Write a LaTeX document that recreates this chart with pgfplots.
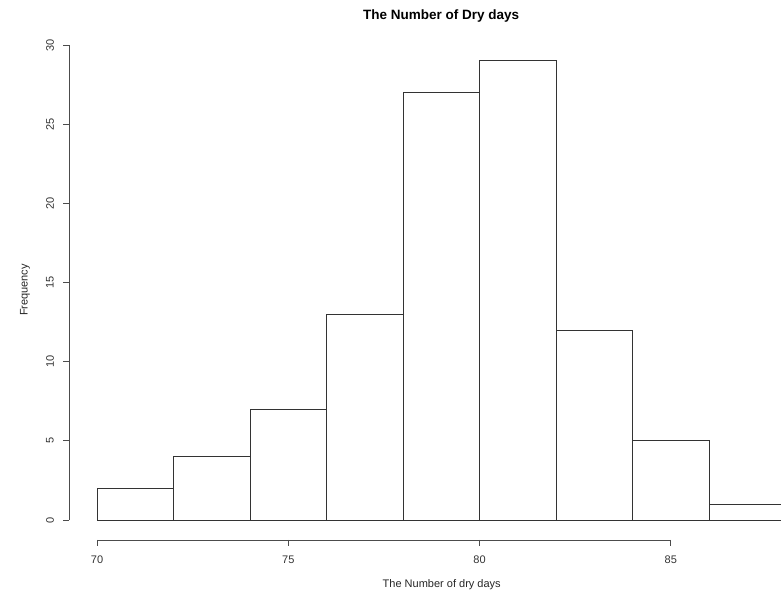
\documentclass[border=0pt]{standalone}
\usepackage{fontspec}
\setmainfont{Liberation Sans}
\usepackage{pgfplots}
\pgfplotsset{compat=1.18}
\begin{document}
\begin{tikzpicture}
\begin{axis}[
  width=781pt, height=594pt, scale only axis,
  xmin=67.464, xmax=87.882, ymin=-4.675, ymax=32.849,
  hide axis, clip=true,
]
\addplot[ybar interval, draw=black!80, line width=0.9pt, fill=white]
  coordinates {(70,2) (72,4) (74,7) (76,13) (78,27) (80,29) (82,12) (84,5) (86,1) (88,1)};
% y axis (R style, detached)
\draw[black!70, line width=0.9pt] (axis cs:69.268,0) -- (axis cs:69.268,30);
\pgfplotsinvokeforeach{0,5,10,15,20,25,30}{
  \draw[black!70, line width=0.9pt] (axis cs:69.268,#1) -- (axis cs:69.111,#1);
  \node[rotate=90, text=black!80, font=\fontsize{11}{13}\selectfont] at (axis cs:68.771,#1) {#1};
}
% x axis
\draw[black!70, line width=0.9pt] (axis cs:70,-1.263) -- (axis cs:85,-1.263);
\pgfplotsinvokeforeach{70,75,80,85}{
  \draw[black!70, line width=0.9pt] (axis cs:#1,-1.263) -- (axis cs:#1,-1.642);
  \node[text=black!80, font=\fontsize{11}{13}\selectfont] at (axis cs:#1,-2.526) {#1};
}
\node[font=\bfseries\fontsize{13.5}{16}\selectfont] at (rel axis cs:0.5647,0.973) {The Number of Dry days};
\node[text=black!85, font=\fontsize{11}{13}\selectfont] at (rel axis cs:0.5656,0.0152) {The Number of dry days};
\node[rotate=90, text=black!85, font=\fontsize{11}{13}\selectfont] at (rel axis cs:0.032,0.5118) {Frequency};
\end{axis}
\pgfresetboundingbox
\useasboundingbox (current axis.south west) rectangle (current axis.north east);
\end{tikzpicture}
\end{document}
